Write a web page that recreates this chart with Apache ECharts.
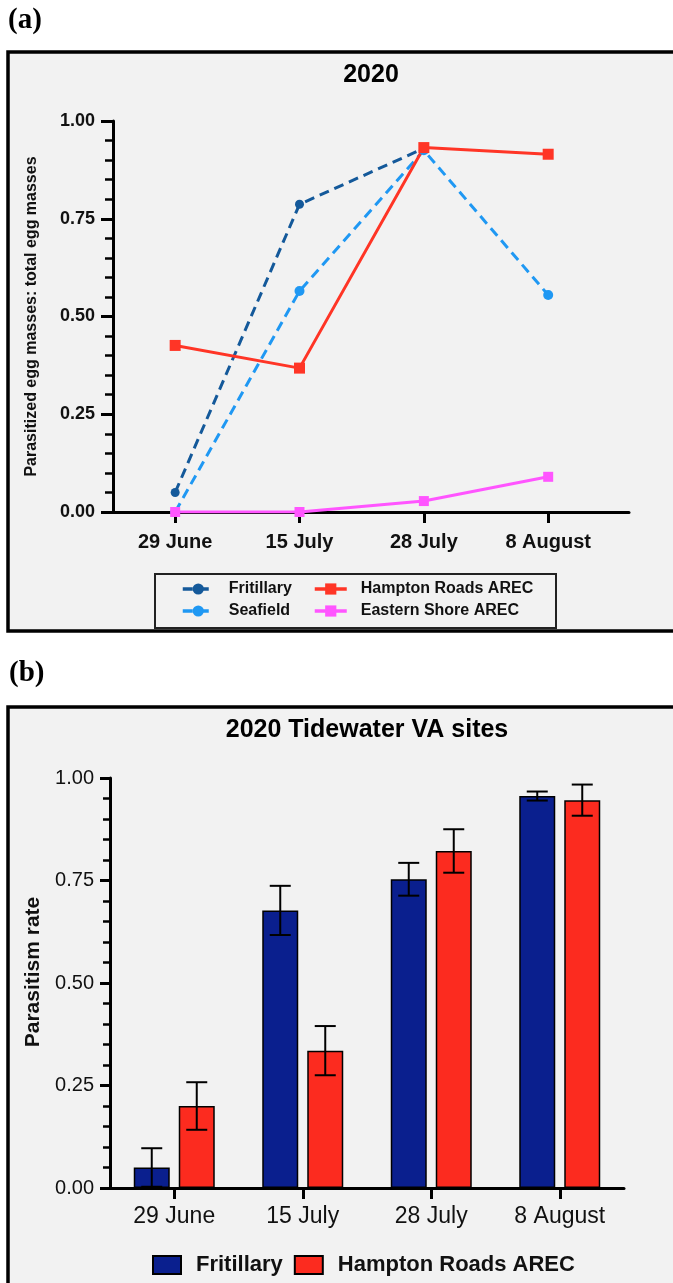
<!DOCTYPE html>
<html>
<head>
<meta charset="utf-8">
<script src="https://cdn.jsdelivr.net/npm/echarts@6/dist/echarts.min.js"></script>
<style>
html,body{margin:0;padding:0;background:#fff;}
#chart{width:673px;height:1283px;}
</style>
</head>
<body>
<div id="chart"></div>
<script>
// ---------- data ----------
const dates = ['29 June', '15 July', '28 July', '8 August'];
const yTickValues = [0, 0.25, 0.5, 0.75, 1];

// panel (a) – parasitized egg masses : total egg masses
const fritillaryA = [0.05, 0.787, 0.93, null];
const seafieldA   = [0, 0.565, 0.925, 0.555];
const hamptonA    = [0.426, 0.368, 0.932, 0.915];
const easternA    = [0, 0, 0.028, 0.09];

// panel (b) – parasitism rate (mean, error)
const fritillaryB    = [0.05, 0.677, 0.753, 0.956];
const fritillaryBErr = [0.047, 0.06, 0.04, 0.011];
const hamptonB       = [0.20, 0.335, 0.822, 0.946];
const hamptonBErr    = [0.058, 0.06, 0.053, 0.038];

// ---------- styling ----------
const SANS = 'Liberation Sans, Arial, Helvetica, sans-serif';
const SERIF = 'Liberation Serif, Times New Roman, serif';
const BAR_W = 36, BAR_GAP = 9;
const OFF = (BAR_W + BAR_GAP) / 2;

const toPts = arr => arr.map((v, i) => v === null ? null : [i, v]).filter(p => p);
const errData = (m, e) => m.map((v, i) => [i, v - e[i], v + e[i]]);

function errRender(offset) {
  return function (params, api) {
    const lo = api.coord([api.value(0), api.value(1)]);
    const hi = api.coord([api.value(0), api.value(2)]);
    const x = lo[0] + offset;
    const cap = 10.5;
    const st = { stroke: '#000', lineWidth: 2 };
    return {
      type: 'group',
      children: [
        { type: 'line', shape: { x1: x, y1: lo[1], x2: x, y2: hi[1] }, style: st },
        { type: 'line', shape: { x1: x - cap, y1: hi[1], x2: x + cap, y2: hi[1] }, style: st },
        { type: 'line', shape: { x1: x - cap, y1: lo[1], x2: x + cap, y2: lo[1] }, style: st }
      ]
    };
  };
}

const chart = echarts.init(document.getElementById('chart'), null, { renderer: 'canvas' });

const option = {
  backgroundColor: '#ffffff',
  animation: false,
  graphic: [
    { type: 'rect', z: -10, shape: { x: 8, y: 52, width: 680, height: 579 },
      style: { fill: '#f2f2f2', stroke: '#000', lineWidth: 3.5 } },
    { type: 'rect', z: -10, shape: { x: 8, y: 707, width: 680, height: 620 },
      style: { fill: '#f2f2f2', stroke: '#000', lineWidth: 3.5 } },
    { type: 'text', z: 10, style: { text: '(a)', x: 8, y: 21, textVerticalAlign: 'middle',
      font: 'bold 29px ' + SERIF, fill: '#000' } },
    { type: 'text', z: 10, style: { text: '(b)', x: 9, y: 674, textVerticalAlign: 'middle',
      font: 'bold 29px ' + SERIF, fill: '#000' } },
    { type: 'text', z: 10, style: { text: '2020', x: 371, y: 75, textAlign: 'center', textVerticalAlign: 'middle',
      font: 'bold 25px ' + SANS, fill: '#000' } },
    { type: 'text', z: 10, style: { text: '2020 Tidewater VA sites', x: 367, y: 730, textAlign: 'center', textVerticalAlign: 'middle',
      font: 'bold 25px ' + SANS, fill: '#000' } },
    { type: 'rect', z: 10, shape: { x: 155, y: 574, width: 401, height: 54 },
      style: { fill: 'none', stroke: '#222', lineWidth: 2 } }
  ],
  grid: [
    { left: 113, right: 44, top: 121, bottom: 771, containLabel: false },
    { left: 110, right: 49, top: 778, bottom: 95, containLabel: false }
  ],
  legend: [
    { data: ['Fritillary', 'Seafield'], orient: 'vertical', left: 181, top: 579,
      itemWidth: 31, itemHeight: 14, itemGap: 2, padding: 0,
      lineStyle: { width: 3.5 },
      textStyle: { fontWeight: 'bold', fontSize: 16, fontFamily: SANS, color: '#111', lineHeight: 20, padding: [0, 0, 0, 10] } },
    { data: ['Hampton Roads AREC', 'Eastern Shore AREC'], orient: 'vertical', left: 313, top: 579,
      itemWidth: 32, itemHeight: 14, itemGap: 2, padding: 0,
      lineStyle: { width: 3.5 },
      textStyle: { fontWeight: 'bold', fontSize: 16, fontFamily: SANS, color: '#111', lineHeight: 20, padding: [0, 0, 0, 9] } },
    { data: ['Fritillary B', 'Hampton Roads AREC B'], orient: 'horizontal', left: 152, top: 1254,
      icon: 'rect', itemWidth: 28, itemHeight: 18, itemGap: 11, padding: 0,
      formatter: n => n.replace(/ B$/, ''),
      textStyle: { fontWeight: 'bold', fontSize: 22, fontFamily: SANS, color: '#111', padding: [0, 0, 0, 10] } }
  ],
  xAxis: [
    { gridIndex: 0, type: 'value', min: -0.5, max: 3.65,
      axisLine: { show: true, onZero: false, lineStyle: { color: '#000', width: 3 } },
      axisTick: { show: true, customValues: [0, 1, 2, 3], length: 11, lineStyle: { color: '#000', width: 3 } },
      axisLabel: { customValues: [0, 1, 2, 3], formatter: v => dates[Math.round(v)] || '',
        fontWeight: 'bold', fontSize: 20, fontFamily: SANS, color: '#111', margin: 20 },
      splitLine: { show: false } },
    { gridIndex: 1, type: 'category', data: dates, boundaryGap: true,
      axisLine: { show: true, onZero: false, lineStyle: { color: '#000', width: 3 } },
      axisTick: { show: true, alignWithLabel: true, length: 11, lineStyle: { color: '#000', width: 3 } },
      axisLabel: { fontSize: 23, fontFamily: SANS, color: '#111', margin: 17 },
      splitLine: { show: false } }
  ],
  yAxis: [
    { gridIndex: 0, type: 'value', min: 0, max: 1, interval: 0.25,
      name: 'Parasitized egg masses: total egg masses', nameLocation: 'middle', nameGap: 73, nameRotate: 90,
      nameTextStyle: { fontWeight: 'bold', fontSize: 16, fontFamily: SANS, color: '#111' },
      axisLine: { show: true, onZero: false, lineStyle: { color: '#000', width: 3 } },
      axisTick: { show: true, length: 12, lineStyle: { color: '#000', width: 3 } },
      minorTick: { show: true, splitNumber: 5, length: 8, lineStyle: { color: '#000', width: 2.5 } },
      axisLabel: { formatter: v => v.toFixed(2), fontWeight: 'bold', fontSize: 18, fontFamily: SANS, color: '#111', margin: 18 },
      splitLine: { show: false }, minorSplitLine: { show: false } },
    { gridIndex: 1, type: 'value', min: 0, max: 1, interval: 0.25,
      name: 'Parasitism rate', nameLocation: 'middle', nameGap: 65, nameRotate: 90,
      nameTextStyle: { fontWeight: 'bold', fontSize: 21, fontFamily: SANS, color: '#111', padding: [0, 0, 0, 22] },
      axisLine: { show: true, onZero: false, lineStyle: { color: '#000', width: 3 } },
      axisTick: { show: true, length: 10, lineStyle: { color: '#000', width: 3 } },
      minorTick: { show: true, splitNumber: 5, length: 7, lineStyle: { color: '#000', width: 2.5 } },
      axisLabel: { formatter: v => v.toFixed(2), fontSize: 20, fontFamily: SANS, color: '#111', margin: 16 },
      splitLine: { show: false }, minorSplitLine: { show: false } }
  ],
  series: [
    { name: 'Fritillary', type: 'line', xAxisIndex: 0, yAxisIndex: 0, data: toPts(fritillaryA),
      symbol: 'circle', symbolSize: 9, color: '#14599a',
      lineStyle: { width: 3, type: [10, 6], color: '#14599a' }, itemStyle: { color: '#14599a' } },
    { name: 'Seafield', type: 'line', xAxisIndex: 0, yAxisIndex: 0, data: toPts(seafieldA),
      symbol: 'circle', symbolSize: 10, color: '#1f98f3',
      lineStyle: { width: 3, type: [10, 6], color: '#1f98f3' }, itemStyle: { color: '#1f98f3' } },
    { name: 'Hampton Roads AREC', type: 'line', xAxisIndex: 0, yAxisIndex: 0, data: toPts(hamptonA),
      symbol: 'rect', symbolSize: 11, color: '#ff3526',
      lineStyle: { width: 3, color: '#ff3526' }, itemStyle: { color: '#ff3526' } },
    { name: 'Eastern Shore AREC', type: 'line', xAxisIndex: 0, yAxisIndex: 0, data: toPts(easternA),
      symbol: 'rect', symbolSize: 10, color: '#ff55ff',
      lineStyle: { width: 3, color: '#ff55ff' }, itemStyle: { color: '#ff55ff' } },

    { name: 'Fritillary B', type: 'bar', xAxisIndex: 1, yAxisIndex: 1, data: fritillaryB,
      barWidth: BAR_W, barGap: (BAR_GAP / BAR_W * 100) + '%', color: '#0a1f8e',
      itemStyle: { color: '#0a1f8e', borderColor: '#000', borderWidth: 1.5 } },
    { name: 'Hampton Roads AREC B', type: 'bar', xAxisIndex: 1, yAxisIndex: 1, data: hamptonB,
      barWidth: BAR_W, barGap: (BAR_GAP / BAR_W * 100) + '%', color: '#fc2b1f',
      itemStyle: { color: '#fc2b1f', borderColor: '#000', borderWidth: 1.5 } },
    { type: 'custom', xAxisIndex: 1, yAxisIndex: 1, z: 5, data: errData(fritillaryB, fritillaryBErr),
      encode: { x: 0, y: [1, 2] }, renderItem: errRender(-OFF) },
    { type: 'custom', xAxisIndex: 1, yAxisIndex: 1, z: 5, data: errData(hamptonB, hamptonBErr),
      encode: { x: 0, y: [1, 2] }, renderItem: errRender(OFF) }
  ]
};
chart.setOption(option);
</script>
</body>
</html>
